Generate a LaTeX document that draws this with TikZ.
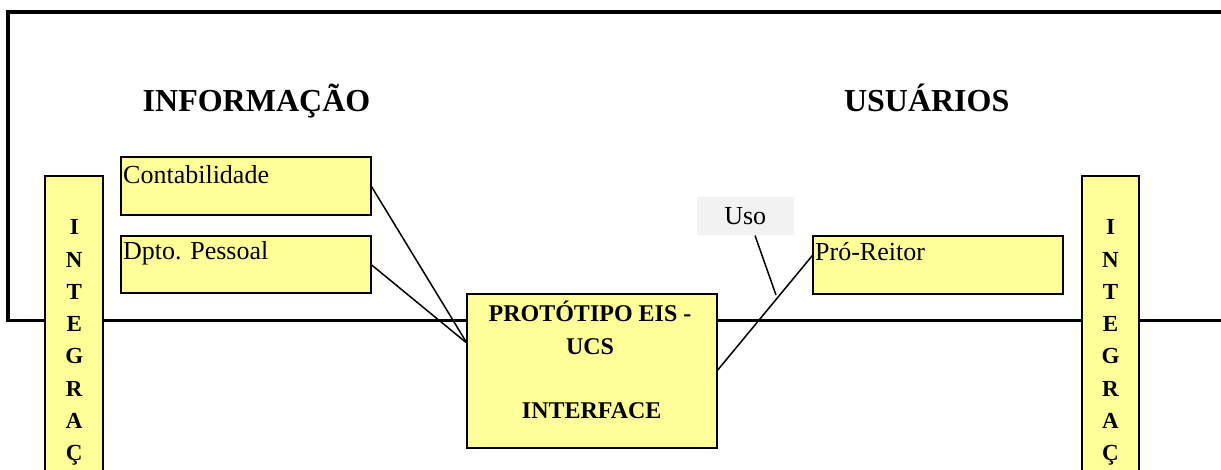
\documentclass[tikz,border=0pt]{standalone}
\usepackage{fontspec}
\setmainfont{Liberation Serif}
\usetikzlibrary{calc}
\definecolor{boxfill}{HTML}{FFFF99}
\definecolor{tagfill}{HTML}{F2F2F2}
\tikzset{
  yellowbox/.style={draw=black, line width=2pt, fill=boxfill, inner sep=0pt, outer sep=0pt},
  frameline/.style={line width=3.6pt},
  link/.style={line width=1.5pt},
  plain/.style={font=\fontsize{26}{32}\selectfont, inner sep=0pt},
  heading/.style={font=\fontsize{32}{38}\selectfont\bfseries, inner sep=0pt, anchor=base},
  coretext/.style={font=\fontsize{24}{32}\selectfont\bfseries, inner sep=0pt, anchor=base},
  vletter/.style={font=\fontsize{23}{32}\selectfont\bfseries, inner sep=0pt, anchor=base}
}
\begin{document}
\begin{tikzpicture}[x=1pt, y=-1pt]
  \useasboundingbox (0,0) rectangle (1221,470);
  \clip (0,0) rectangle (1221,470);

  % open frame around the upper part
  \draw[frameline] (1240,12) -- (8,12) -- (8,320.7) -- (1240,320.7);

  % headings
  \node[heading] (info) at (256.5,112) {INFORMAÇÃO};
  \node[heading] (users) at (926.7,111.7) {USUÁRIOS};

  % information sources
  \node[yellowbox, minimum width=250.6pt, minimum height=57.7pt] (cont) at (246,186.2) {};
  \node[plain, anchor=base west] (contT) at (123,184) {Contabilidade};
  \node[yellowbox, minimum width=250.6pt, minimum height=57.3pt] (dpto) at (246,264.7) {};
  \node[plain, anchor=base west] (dptoT) at (123,260) {Dpto. Pessoal};

  % prototype interface
  \node[yellowbox, minimum width=250pt, minimum height=153.7pt] (core) at (592,370.9) {};
  \node[coretext] (coreA) at (590,321.7) {PROTÓTIPO EIS -};
  \node[coretext] (coreB) at (590,354) {UCS};
  \node[coretext] (coreC) at (591.7,418.3) {INTERFACE};

  % user
  \node[yellowbox, minimum width=250.6pt, minimum height=58pt] (pro) at (938,265) {};
  \node[plain, anchor=base west] (proT) at (815,260.7) {Pró-Reitor};

  % usage tag
  \node[fill=tagfill, minimum width=96.7pt, minimum height=38pt, inner sep=0pt,
        font=\fontsize{26}{32}\selectfont] (uso) at (745.3,216.3) {Uso};
  \coordinate (usoTip) at (776,295);

  % connectors
  \coordinate (coreIn) at ($(core.north west)!0.32!(core.south west)$);
  \coordinate (proIn) at ($(pro.north west)!0.33!(pro.south west)$);
  \draw[link] (cont.east) -- (coreIn);
  \draw[link] (dpto.east) -- (coreIn);
  \draw[link] (core.east) -- (proIn);
  \draw[link] ($(uso.south)+(9.7,0)$) -- (usoTip);

  % integration bars
  \node[yellowbox, anchor=north west, minimum width=58pt, minimum height=320pt] (barL) at (45.3,175.7) {};
  \node[yellowbox, anchor=north west, minimum width=57.6pt, minimum height=320pt] (barR) at (1081.7,176) {};
  \foreach \ch [count=\i] in {I,N,T,E,G,R,A,Ç,Ã} {
    \node[vletter] (lL\i) at (74.3, 235+32.2*\i-32.2) {\ch};
    \node[vletter] (lR\i) at (1110.5, 235+32.2*\i-32.2) {\ch};
  }
\end{tikzpicture}
\end{document}
